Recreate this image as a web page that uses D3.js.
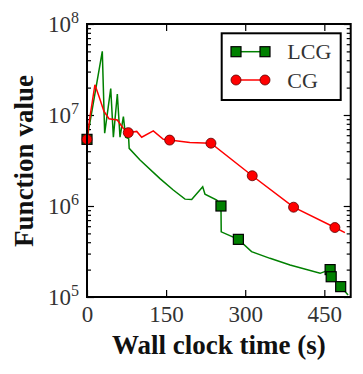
<!DOCTYPE html>
<html>
<head>
<meta charset="utf-8">
<script src="https://cdn.jsdelivr.net/npm/d3@7"></script>
<style>
  body { margin: 0; background: #fff; }
  text { font-family: "Liberation Serif", serif; }
</style>
</head>
<body>
<div id="chart"></div>
<script>
// LCG run: wall clock time (s) and function value
const lcgTime = [0, 29, 33.5, 45, 50, 57.5, 62.6, 69, 73.3, 79, 80, 100.5, 138.4, 163.6, 185.8, 198.5,
  219.4, 223.7, 246, 254, 254.5, 287, 312, 347, 385, 442, 461, 463, 481, 495];
const lcgValue = [5.4e6, 5.0e7, 6.3e6, 1.95e7, 5.7e6, 1.7e7, 5.7e6, 9.6e6, 5.7e6, 5.5e6, 4.3e6, 3.2e6,
  2.0e6, 1.5e6, 1.19e6, 1.18e6, 1.63e6, 1.35e6, 1.16e6, 1.0e6, 5.2e5, 4.3e5, 3.15e5, 2.66e5, 2.25e5,
  1.82e5, 2.0e5, 1.67e5, 1.3e5, 1.05e5];
const lcgMarkIdx = [0, 19, 21, 26, 27, 28];

// CG run
const cgTime = [0, 5.7, 15, 22.8, 32, 41.7, 57.5, 69, 78.3, 94.3, 103.7, 125.7, 144.7, 156.7, 195, 235,
  313.3, 391.7, 470, 489];
const cgValue = [5.4e6, 9.6e6, 2.15e7, 1.6e7, 1.1e7, 9.1e6, 8.8e6, 7.1e6, 6.4e6, 6.6e6, 5.7e6, 6.7e6,
  5.4e6, 5.3e6, 5.0e6, 4.9e6, 2.15e6, 9.7e5, 5.8e5, 5.1e5];
const cgMarkIdx = [0, 8, 13, 15, 16, 17, 18];

const seriesNames = ['LCG', 'CG'];
const xTicks = [0, 150, 300, 450];
const yMajorTicks = [1e5, 1e6, 1e7, 1e8];

const margin = { top: 24, right: 12.3, bottom: 77, left: 87 };
const containerWidth = 363, containerHeight = 374;
const width = containerWidth - margin.left - margin.right;
const height = containerHeight - margin.top - margin.bottom;

const svg = d3.select('#chart').append('svg')
  .attr('width', containerWidth)
  .attr('height', containerHeight);

const chart = svg.append('g')
  .attr('transform', `translate(${margin.left},${margin.top})`);

const xScale = d3.scaleLinear().domain([0, 500]).range([0, width]);
const yScale = d3.scaleLog().domain([1e5, 1e8]).range([height, 0]);

// minor log ticks 2..9 x 10^n
const yMinorTicks = [];
[1e5, 1e6, 1e7].forEach(base => {
  for (let k = 2; k <= 9; k++) yMinorTicks.push(base * k);
});

// Axes (ticks point inward)
const xAxisG = chart.append('g')
  .attr('transform', `translate(0,${height})`)
  .call(d3.axisBottom(xScale).tickValues(xTicks).tickSize(-7).tickPadding(9).tickFormat(d => d));
chart.append('g')
  .call(d3.axisTop(xScale).tickValues(xTicks).tickSize(-7).tickFormat(''));

const yAxisG = chart.append('g')
  .call(d3.axisLeft(yScale).tickValues(yMajorTicks).tickSize(-7).tickPadding(8).tickFormat(() => '10'));
chart.append('g')
  .call(d3.axisLeft(yScale).tickValues(yMinorTicks).tickSize(-4).tickFormat(''));
chart.append('g')
  .attr('transform', `translate(${width},0)`)
  .call(d3.axisRight(yScale).tickValues(yMajorTicks).tickSize(-7).tickFormat(''));
chart.append('g')
  .attr('transform', `translate(${width},0)`)
  .call(d3.axisRight(yScale).tickValues(yMinorTicks).tickSize(-4).tickFormat(''));

chart.selectAll('.domain').remove();
chart.selectAll('.tick line').attr('stroke', '#000').attr('stroke-width', 1.2);
chart.selectAll('.tick text')
  .attr('font-family', '"Liberation Serif", serif')
  .attr('font-size', 23)
  .attr('fill', '#333');

// superscript exponents on y labels
yAxisG.selectAll('.tick text').each(function (d) {
  d3.select(this).append('tspan')
    .attr('dy', -9)
    .attr('font-size', 16)
    .text(Math.round(Math.log10(d)));
});

// Lines
const line = d3.line()
  .x(d => xScale(d[0]))
  .y(d => yScale(d[1]));

const lcgData = lcgTime.map((t, i) => [t, lcgValue[i]]);
const cgData = cgTime.map((t, i) => [t, cgValue[i]]);

const plot = chart.append('g');
const sqSize = 10;

plot.append('path')
  .datum(lcgData)
  .attr('fill', 'none')
  .attr('stroke', '#008000')
  .attr('stroke-width', 1.5)
  .attr('d', line);
plot.selectAll('.lcg-mark')
  .data(lcgMarkIdx.map(i => lcgData[i]))
  .join('rect')
  .attr('class', 'lcg-mark')
  .attr('x', d => xScale(d[0]) - sqSize / 2)
  .attr('y', d => yScale(d[1]) - sqSize / 2)
  .attr('width', sqSize)
  .attr('height', sqSize)
  .attr('fill', '#008000')
  .attr('stroke', '#000')
  .attr('stroke-width', 1.2);

plot.append('path')
  .datum(cgData)
  .attr('fill', 'none')
  .attr('stroke', '#ff0000')
  .attr('stroke-width', 1.5)
  .attr('d', line);
plot.selectAll('.cg-mark')
  .data(cgMarkIdx.map(i => cgData[i]))
  .join('circle')
  .attr('class', 'cg-mark')
  .attr('cx', d => xScale(d[0]))
  .attr('cy', d => yScale(d[1]))
  .attr('r', 5)
  .attr('fill', '#ff0000')
  .attr('stroke', '#5a0000')
  .attr('stroke-width', 0.8);

// Frame
chart.append('rect')
  .attr('width', width)
  .attr('height', height)
  .attr('fill', 'none')
  .attr('stroke', '#000')
  .attr('stroke-width', 2);

// Legend
const legend = chart.append('g')
  .attr('transform', `translate(${width - 129},${9.3})`);
legend.append('rect')
  .attr('width', 119)
  .attr('height', 66.7)
  .attr('fill', '#fff')
  .attr('stroke', '#000')
  .attr('stroke-width', 2);
const legendColors = ['#008000', '#ff0000'];
seriesNames.forEach((name, i) => {
  const row = legend.append('g').attr('transform', `translate(0,${18.4 + i * 28.3})`);
  row.append('line')
    .attr('x1', 14.3).attr('x2', 43.3)
    .attr('stroke', legendColors[i]).attr('stroke-width', 1.5);
  [14.3, 43.3].forEach(cx => {
    if (i === 0) {
      row.append('rect')
        .attr('x', cx - sqSize / 2).attr('y', -sqSize / 2)
        .attr('width', sqSize).attr('height', sqSize)
        .attr('fill', '#008000').attr('stroke', '#000').attr('stroke-width', 1.2);
    } else {
      row.append('circle')
        .attr('cx', cx).attr('r', 5)
        .attr('fill', '#ff0000').attr('stroke', '#5a0000').attr('stroke-width', 0.8);
    }
  });
  row.append('text')
    .attr('x', 65.6)
    .attr('y', 7.5)
    .attr('font-size', 22)
    .attr('fill', '#333')
    .text(name);
});

// Axis labels
svg.append('text')
  .attr('x', margin.left + width / 2)
  .attr('y', 354)
  .attr('text-anchor', 'middle')
  .attr('font-size', 27)
  .attr('font-weight', 'bold')
  .attr('fill', '#111')
  .text('Wall clock time (s)');

svg.append('text')
  .attr('transform', `translate(33,${161}) rotate(-90)`)
  .attr('text-anchor', 'middle')
  .attr('font-size', 27)
  .attr('font-weight', 'bold')
  .attr('fill', '#111')
  .text('Function value');
</script>
</body>
</html>
